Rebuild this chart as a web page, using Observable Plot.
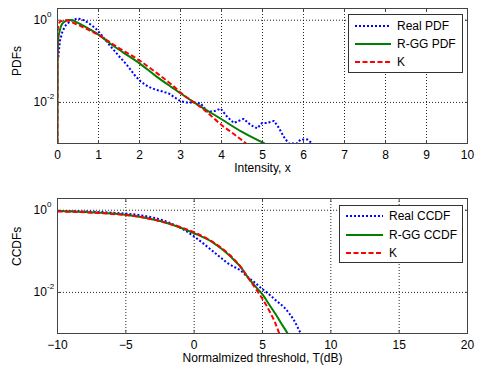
<!DOCTYPE html>
<html><head><meta charset="utf-8">
<script src="https://cdn.jsdelivr.net/npm/d3@7"></script>
<script src="https://cdn.jsdelivr.net/npm/@observablehq/plot@0.6"></script>
<style>
html,body{margin:0;padding:0;background:#fff;}
#wrap{position:relative;width:480px;height:374px;overflow:hidden;font-family:"Liberation Sans",Arial,sans-serif;}
#wrap svg{display:block;}
.legend{position:absolute;background:#fff;border:1px solid #333;box-sizing:border-box;font-size:12px;color:#000;}
.legend .row{position:absolute;left:0;height:14px;line-height:14px;white-space:nowrap;}
.legend svg{position:absolute;top:0;}
.legend span{position:absolute;top:0;}
</style></head>
<body><div id="wrap"></div>
<script>
// ---------- PDF panel (top) ----------
const pdfRealX = [0.02,0.06,0.12,0.18,0.24,0.36,0.48,0.6,0.68,0.8,0.93,1.05,1.17,1.29,1.41,1.53,1.66,1.78,1.9,2.02,2.15,2.27,2.39,2.51,2.71,2.83,3.0,3.15,3.33,3.49,3.57,3.65,3.81,3.98,4.06,4.14,4.3,4.42,4.54,4.71,4.87,4.99,5.11,5.28,5.40,5.52,5.64,5.84,5.93,6.09,6.21];
const pdfRealY = [0.126,0.316,0.525,0.708,0.832,1.0,1.10,1.05,0.955,0.794,0.631,0.468,0.331,0.234,0.170,0.123,0.0891,0.0631,0.0437,0.0331,0.0263,0.0229,0.0204,0.0191,0.0166,0.0138,0.0107,0.0100,0.0100,0.00955,0.00759,0.00603,0.00603,0.00708,0.00562,0.00447,0.00316,0.00355,0.00398,0.00282,0.00234,0.00316,0.00316,0.00355,0.00240,0.00145,0.00100,0.00100,0.00126,0.00126,0.00100];
const pdfRggX = [0,0.005,0.02,0.04,0.08,0.12,0.18,0.24,0.3,0.36,0.45,0.6,0.8,1.0,1.25,1.58,2.0,2.4,2.8,3.33,4.0,4.5,5.05];
const pdfRggY = [0.001,0.126,0.355,0.479,0.692,0.832,0.933,1.0,1.01,1.0,0.912,0.759,0.589,0.447,0.288,0.170,0.0891,0.0437,0.0229,0.0100,0.00389,0.00191,0.00100];
const pdfKX = [0,0.003,0.02,0.05,0.1,0.2,0.3,0.4,0.6,0.77,1.0,1.5,2.0,2.4,2.8,3.0,3.33,3.6,4.0,4.3,4.6];
const pdfKY = [0.001,0.501,0.759,0.891,0.955,1.0,0.955,0.851,0.692,0.575,0.437,0.209,0.105,0.0537,0.0263,0.0174,0.0100,0.00631,0.00282,0.00170,0.00100];
const pdfXTicks = [0,1,2,3,4,5,6,7,8,9,10];
const pdfLegend = ["Real PDF","R-GG PDF","K"];

// ---------- CCDF panel (bottom) ----------
const ccdfRealX = [-10,-8,-6,-4,-3,-2,-1,0,1.3,2.0,2.5,3.4,3.9,4.4,5.0,5.5,6.0,6.6,7.3,7.84];
const ccdfRealY = [0.955,0.933,0.871,0.759,0.661,0.525,0.372,0.229,0.105,0.0676,0.0501,0.0339,0.0240,0.0178,0.0120,0.00891,0.00631,0.00427,0.00209,0.000933];
const ccdfRggX = [-10,-8,-6,-4,-2,0,1.3,2.0,2.5,3.0,3.4,3.9,4.4,5.0,5.5,6.0,6.5,6.9];
const ccdfRggY = [0.955,0.912,0.832,0.692,0.490,0.275,0.170,0.115,0.0832,0.0575,0.0417,0.0240,0.0151,0.00891,0.00501,0.00282,0.00151,0.000933];
const ccdfKX = [-10,-8,-6,-4,-2,0,1.3,2.0,2.5,3.0,3.4,3.9,4.4,5.0,5.5,5.9,6.26];
const ccdfKY = [0.933,0.891,0.813,0.692,0.490,0.288,0.174,0.120,0.0871,0.0603,0.0417,0.0240,0.0138,0.00692,0.00355,0.00191,0.000933];
const ccdfXTicks = [-10,-5,0,5,10,15,20];
const ccdfLegend = ["Real CCDF","R-GG CCDF","K"];

const yTickVals = [1, 0.01];
const yTickExp = ["0", "-2"];

const colors = ["#0000ff", "#008000", "#ff0000"];
const dashes = ["2,2", null, "5,2.5"];

const zip = (xs, ys) => xs.map((x, i) => ({x, y: ys[i]}));

function panel({series, xDomain, xTicks, xLabel, yLabel, mt, mb, xlabDy}) {
  const yt = yTickVals.map((v, i) => ({v, e: yTickExp[i]}));
  const blank = () => "";
  return Plot.plot({
    width: 480, height: 187,
    marginLeft: 57, marginRight: 13, marginTop: mt, marginBottom: mb,
    style: {fontFamily: "'Liberation Sans', Arial, sans-serif", fontSize: "12px", background: "#fff", color: "#000", overflow: "visible"},
    x: {domain: xDomain, ticks: xTicks, label: null},
    y: {type: "log", domain: [0.001, 1.93], axis: null},
    marks: [
      Plot.gridX(xTicks, {stroke: "#000", strokeOpacity: 0.85, strokeDasharray: "1,2"}),
      Plot.gridY(yTickVals, {stroke: "#000", strokeOpacity: 0.85, strokeDasharray: "1,2"}),
      ...series.map((s, i) => Plot.line(s, {x: "x", y: "y", stroke: colors[i], strokeWidth: 2,
        strokeDasharray: dashes[i], strokeLinecap: "butt", strokeLinejoin: "miter",
        curve: i === 0 && xDomain[0] === 0 ? "linear" : "monotone-x", clip: true})),
      Plot.frame({stroke: "#444", strokeWidth: 1}),
      Plot.axisX({ticks: xTicks, tickSize: 0, tickPadding: 7, label: null, fontSize: 12}),
      Plot.axisX({ticks: xTicks, anchor: "bottom", tickSize: -3, tickFormat: blank, label: null, stroke: "#444"}),
      Plot.axisX({ticks: xTicks, anchor: "top", tickSize: -3, tickFormat: blank, label: null, stroke: "#444"}),
      Plot.axisY({ticks: yTickVals, anchor: "left", tickSize: -3, tickFormat: blank, label: null, stroke: "#444"}),
      Plot.axisY({ticks: yTickVals, anchor: "right", tickSize: -3, tickFormat: blank, label: null, stroke: "#444"}),
      Plot.text(yt, {y: "v", frameAnchor: "left", text: () => "10", textAnchor: "start", dx: -24, fontSize: 12}),
      Plot.text(yt, {y: "v", frameAnchor: "left", text: "e", textAnchor: "start", dx: -10.5, dy: -6, fontSize: 8}),
      Plot.text([yLabel], {frameAnchor: "left", text: d => d, rotate: -90, dx: -40, fontSize: 12}),
      Plot.text([xLabel], {frameAnchor: "bottom", text: d => d, dy: xlabDy, fontSize: 12})
    ]
  });
}

function legend(labels, box, sample, textX, rows) {
  const d = document.createElement("div");
  d.className = "legend";
  Object.assign(d.style, {left: box[0] + "px", top: box[1] + "px", width: box[2] + "px", height: box[3] + "px"});
  labels.forEach((lab, i) => {
    const r = document.createElement("div");
    r.className = "row";
    r.style.top = (rows[i] - box[1] - 7) + "px";
    r.style.width = "100%";
    const w = sample[1] - sample[0];
    r.innerHTML = `<svg width="${w}" height="14" style="left:${sample[0] - box[0] - 1}px"><line x1="0" x2="${w}" y1="7" y2="7" stroke="${colors[i]}" stroke-width="2" ${dashes[i] ? `stroke-dasharray="${dashes[i]}"` : ""}/></svg><span style="left:${textX - box[0] - 1}px">${lab}</span>`;
    d.appendChild(r);
  });
  return d;
}

const wrap = document.getElementById("wrap");
wrap.appendChild(panel({
  series: [zip(pdfRealX, pdfRealY), zip(pdfRggX, pdfRggY), zip(pdfKX, pdfKY)],
  xDomain: [0, 10], xTicks: pdfXTicks, xLabel: "Intensity, x", yLabel: "PDFs", mt: 8, mb: 44, xlabDy: 28
}));
wrap.appendChild(panel({
  series: [zip(ccdfRealX, ccdfRealY), zip(ccdfRggX, ccdfRggY), zip(ccdfKX, ccdfKY)],
  xDomain: [-10, 20], xTicks: ccdfXTicks, xLabel: "Normalmized threshold, T(dB)", yLabel: "CCDFs", mt: 11, mb: 41, xlabDy: 28
}));
wrap.appendChild(legend(pdfLegend, [348, 14, 115, 59], [355, 391], 397, [25, 43, 61]));
wrap.appendChild(legend(ccdfLegend, [339, 205, 124, 58], [346, 383], 389, [215, 233.5, 252]));
</script></body></html>
